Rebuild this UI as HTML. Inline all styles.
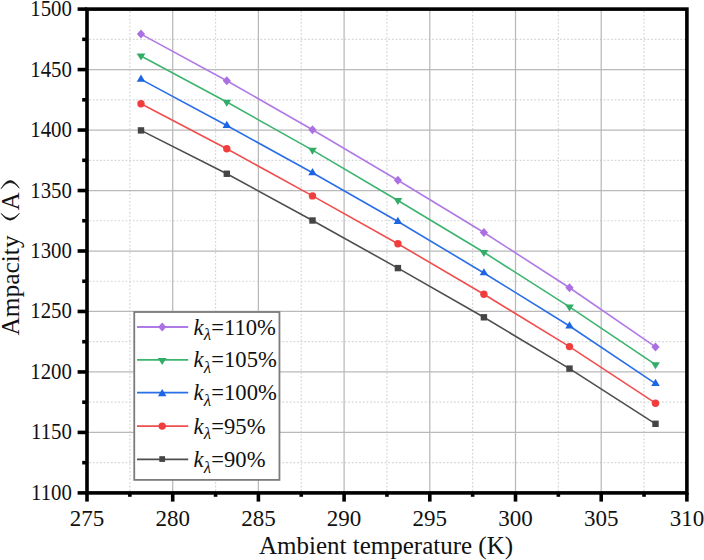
<!DOCTYPE html>
<html><head><meta charset="utf-8"><style>
html,body{margin:0;padding:0;background:#fff;}
svg{display:block;}
text{font-family:"Liberation Serif",serif;fill:#111;}
.mg{stroke:#d6d6d6;stroke-width:1.2;stroke-dasharray:1.8 1.85;}
.Mg{stroke:#b9b9b9;stroke-width:1.25;}
.tk{stroke:#000;stroke-width:3.6;}
.yt{font-size:22.4px;text-anchor:end;}
.xt{font-size:23px;text-anchor:middle;}
.lg{font-size:22.6px;}
.at{font-size:25px;}
.at2{font-size:25px;}
</style></head><body>
<svg width="704" height="560" viewBox="0 0 704 560">
<rect width="704" height="560" fill="#fff"/>
<line x1="129.85" y1="11.1" x2="129.85" y2="492.9" class="mg"/>
<line x1="215.55" y1="11.1" x2="215.55" y2="492.9" class="mg"/>
<line x1="301.25" y1="11.1" x2="301.25" y2="492.9" class="mg"/>
<line x1="386.95" y1="11.1" x2="386.95" y2="492.9" class="mg"/>
<line x1="472.65" y1="11.1" x2="472.65" y2="492.9" class="mg"/>
<line x1="558.35" y1="11.1" x2="558.35" y2="492.9" class="mg"/>
<line x1="644.05" y1="11.1" x2="644.05" y2="492.9" class="mg"/>
<line x1="89" y1="462.66" x2="686.9" y2="462.66" class="mg"/>
<line x1="89" y1="402.19" x2="686.9" y2="402.19" class="mg"/>
<line x1="89" y1="341.71" x2="686.9" y2="341.71" class="mg"/>
<line x1="89" y1="281.24" x2="686.9" y2="281.24" class="mg"/>
<line x1="89" y1="220.76" x2="686.9" y2="220.76" class="mg"/>
<line x1="89" y1="160.29" x2="686.9" y2="160.29" class="mg"/>
<line x1="89" y1="99.81" x2="686.9" y2="99.81" class="mg"/>
<line x1="89" y1="39.34" x2="686.9" y2="39.34" class="mg"/>
<line x1="172.7" y1="9.1" x2="172.7" y2="492.9" class="Mg"/>
<line x1="258.4" y1="9.1" x2="258.4" y2="492.9" class="Mg"/>
<line x1="344.1" y1="9.1" x2="344.1" y2="492.9" class="Mg"/>
<line x1="429.8" y1="9.1" x2="429.8" y2="492.9" class="Mg"/>
<line x1="515.5" y1="9.1" x2="515.5" y2="492.9" class="Mg"/>
<line x1="601.2" y1="9.1" x2="601.2" y2="492.9" class="Mg"/>
<line x1="87" y1="432.42" x2="686.9" y2="432.42" class="Mg"/>
<line x1="87" y1="371.95" x2="686.9" y2="371.95" class="Mg"/>
<line x1="87" y1="311.47" x2="686.9" y2="311.47" class="Mg"/>
<line x1="87" y1="251" x2="686.9" y2="251" class="Mg"/>
<line x1="87" y1="190.53" x2="686.9" y2="190.53" class="Mg"/>
<line x1="87" y1="130.05" x2="686.9" y2="130.05" class="Mg"/>
<line x1="87" y1="69.58" x2="686.9" y2="69.58" class="Mg"/>
<polyline points="141,130.4 226.8,173.75 312.5,220.5 397.9,268.1 483.9,317.3 569.5,368.6 655.5,423.8" fill="none" stroke="#4e4e4e" stroke-width="1.6"/>
<rect x="137.8" y="127.2" width="6.4" height="6.4" fill="#454545"/>
<rect x="223.6" y="170.55" width="6.4" height="6.4" fill="#454545"/>
<rect x="309.3" y="217.3" width="6.4" height="6.4" fill="#454545"/>
<rect x="394.7" y="264.9" width="6.4" height="6.4" fill="#454545"/>
<rect x="480.7" y="314.1" width="6.4" height="6.4" fill="#454545"/>
<rect x="566.3" y="365.4" width="6.4" height="6.4" fill="#454545"/>
<rect x="652.3" y="420.6" width="6.4" height="6.4" fill="#454545"/>
<polyline points="141,103.8 226.8,148.75 312.5,195.9 397.9,243.75 483.9,294.3 569.5,346.6 655.5,403.2" fill="none" stroke="#f04e4e" stroke-width="1.6"/>
<circle cx="141" cy="103.8" r="3.7" fill="#f03e3e"/>
<circle cx="226.8" cy="148.75" r="3.7" fill="#f03e3e"/>
<circle cx="312.5" cy="195.9" r="3.7" fill="#f03e3e"/>
<circle cx="397.9" cy="243.75" r="3.7" fill="#f03e3e"/>
<circle cx="483.9" cy="294.3" r="3.7" fill="#f03e3e"/>
<circle cx="569.5" cy="346.6" r="3.7" fill="#f03e3e"/>
<circle cx="655.5" cy="403.2" r="3.7" fill="#f03e3e"/>
<polyline points="141,79.4 226.8,125.5 312.5,172.8 397.9,221.5 483.9,272.95 569.5,326 655.5,383.6" fill="none" stroke="#2a6ee8" stroke-width="1.6"/>
<path d="M136.75 81.8L145.25 81.8L141 74.6Z" fill="#1c66e6"/>
<path d="M222.55 127.9L231.05 127.9L226.8 120.7Z" fill="#1c66e6"/>
<path d="M308.25 175.2L316.75 175.2L312.5 168Z" fill="#1c66e6"/>
<path d="M393.65 223.9L402.15 223.9L397.9 216.7Z" fill="#1c66e6"/>
<path d="M479.65 275.35L488.15 275.35L483.9 268.15Z" fill="#1c66e6"/>
<path d="M565.25 328.4L573.75 328.4L569.5 321.2Z" fill="#1c66e6"/>
<path d="M651.25 386L659.75 386L655.5 378.8Z" fill="#1c66e6"/>
<polyline points="141,55.95 226.8,102.05 312.5,150.1 397.9,200.45 483.9,252.25 569.5,306.95 655.5,364.6" fill="none" stroke="#3cb46e" stroke-width="1.6"/>
<path d="M136.65 53.6L145.35 53.6L141 60.6Z" fill="#32ad67"/>
<path d="M222.45 99.7L231.15 99.7L226.8 106.7Z" fill="#32ad67"/>
<path d="M308.15 147.75L316.85 147.75L312.5 154.75Z" fill="#32ad67"/>
<path d="M393.55 198.1L402.25 198.1L397.9 205.1Z" fill="#32ad67"/>
<path d="M479.55 249.9L488.25 249.9L483.9 256.9Z" fill="#32ad67"/>
<path d="M565.15 304.6L573.85 304.6L569.5 311.6Z" fill="#32ad67"/>
<path d="M651.15 362.25L659.85 362.25L655.5 369.25Z" fill="#32ad67"/>
<polyline points="141,34.1 226.8,80.7 312.5,129.75 397.9,180.25 483.9,232.5 569.5,287.75 655.5,346.9" fill="none" stroke="#b07ae6" stroke-width="1.6"/>
<path d="M141 29.6L145.1 34.1L141 38.6L136.9 34.1Z" fill="#ab70e2"/>
<path d="M226.8 76.2L230.9 80.7L226.8 85.2L222.7 80.7Z" fill="#ab70e2"/>
<path d="M312.5 125.25L316.6 129.75L312.5 134.25L308.4 129.75Z" fill="#ab70e2"/>
<path d="M397.9 175.75L402 180.25L397.9 184.75L393.8 180.25Z" fill="#ab70e2"/>
<path d="M483.9 228L488 232.5L483.9 237L479.8 232.5Z" fill="#ab70e2"/>
<path d="M569.5 283.25L573.6 287.75L569.5 292.25L565.4 287.75Z" fill="#ab70e2"/>
<path d="M655.5 342.4L659.6 346.9L655.5 351.4L651.4 346.9Z" fill="#ab70e2"/>
<rect x="134.25" y="312.0" width="145.2" height="167.9" fill="#fff" stroke="#7c7c7c" stroke-width="1.8"/>
<line x1="137" y1="327" x2="188.2" y2="327" stroke="#b07ae6" stroke-width="1.8"/>
<path d="M162.2 322.5L166.3 327L162.2 331.5L158.1 327Z" fill="#ab70e2"/>
<text x="193.6" y="334.6" class="lg"><tspan font-style="italic">k</tspan><tspan font-size="17" font-style="italic" dy="5.5">λ</tspan><tspan dy="-5.5" dx="0.3">=110%</tspan></text>
<line x1="137" y1="359.8" x2="188.2" y2="359.8" stroke="#3cb46e" stroke-width="1.8"/>
<path d="M157.85 358.1L166.55 358.1L162.2 365.1Z" fill="#32ad67"/>
<text x="193.6" y="367.4" class="lg"><tspan font-style="italic">k</tspan><tspan font-size="17" font-style="italic" dy="5.5">λ</tspan><tspan dy="-5.5" dx="0.3">=105%</tspan></text>
<line x1="137" y1="392.6" x2="188.2" y2="392.6" stroke="#2a6ee8" stroke-width="1.8"/>
<path d="M157.95 396.15L166.45 396.15L162.2 388.95Z" fill="#1c66e6"/>
<text x="193.6" y="400.2" class="lg"><tspan font-style="italic">k</tspan><tspan font-size="17" font-style="italic" dy="5.5">λ</tspan><tspan dy="-5.5" dx="0.3">=100%</tspan></text>
<line x1="137" y1="426.2" x2="188.2" y2="426.2" stroke="#f04e4e" stroke-width="1.8"/>
<circle cx="162.2" cy="426.1" r="3.7" fill="#f03e3e"/>
<text x="193.6" y="433.8" class="lg"><tspan font-style="italic">k</tspan><tspan font-size="17" font-style="italic" dy="5.5">λ</tspan><tspan dy="-5.5" dx="0.3">=95%</tspan></text>
<line x1="137" y1="459.4" x2="188.2" y2="459.4" stroke="#4e4e4e" stroke-width="1.8"/>
<rect x="159.32" y="456.17" width="5.76" height="5.76" fill="#454545"/>
<text x="193.6" y="467" class="lg"><tspan font-style="italic">k</tspan><tspan font-size="17" font-style="italic" dy="5.5">λ</tspan><tspan dy="-5.5" dx="0.3">=90%</tspan></text>
<rect x="87.0" y="9.1" width="599.9" height="483.8" fill="none" stroke="#000" stroke-width="3.6"/>
<line x1="77.6" y1="492.9" x2="87.0" y2="492.9" class="tk"/>
<line x1="82.2" y1="462.66" x2="87.0" y2="462.66" class="tk"/>
<text transform="translate(71.9,499.9) scale(0.93,1)" class="yt">1100</text>
<line x1="77.6" y1="432.42" x2="87.0" y2="432.42" class="tk"/>
<line x1="82.2" y1="402.19" x2="87.0" y2="402.19" class="tk"/>
<text transform="translate(71.9,439.42) scale(0.93,1)" class="yt">1150</text>
<line x1="77.6" y1="371.95" x2="87.0" y2="371.95" class="tk"/>
<line x1="82.2" y1="341.71" x2="87.0" y2="341.71" class="tk"/>
<text transform="translate(71.9,378.95) scale(0.93,1)" class="yt">1200</text>
<line x1="77.6" y1="311.47" x2="87.0" y2="311.47" class="tk"/>
<line x1="82.2" y1="281.24" x2="87.0" y2="281.24" class="tk"/>
<text transform="translate(71.9,318.47) scale(0.93,1)" class="yt">1250</text>
<line x1="77.6" y1="251" x2="87.0" y2="251" class="tk"/>
<line x1="82.2" y1="220.76" x2="87.0" y2="220.76" class="tk"/>
<text transform="translate(71.9,258) scale(0.93,1)" class="yt">1300</text>
<line x1="77.6" y1="190.53" x2="87.0" y2="190.53" class="tk"/>
<line x1="82.2" y1="160.29" x2="87.0" y2="160.29" class="tk"/>
<text transform="translate(71.9,197.53) scale(0.93,1)" class="yt">1350</text>
<line x1="77.6" y1="130.05" x2="87.0" y2="130.05" class="tk"/>
<line x1="82.2" y1="99.81" x2="87.0" y2="99.81" class="tk"/>
<text transform="translate(71.9,137.05) scale(0.93,1)" class="yt">1400</text>
<line x1="77.6" y1="69.58" x2="87.0" y2="69.58" class="tk"/>
<line x1="82.2" y1="39.34" x2="87.0" y2="39.34" class="tk"/>
<text transform="translate(71.9,76.58) scale(0.93,1)" class="yt">1450</text>
<line x1="77.6" y1="9.1" x2="87.0" y2="9.1" class="tk"/>
<text transform="translate(71.9,16.1) scale(0.93,1)" class="yt">1500</text>
<line x1="87" y1="492.9" x2="87" y2="501.6" class="tk"/>
<line x1="129.85" y1="492.9" x2="129.85" y2="496.8" class="tk"/>
<text x="87" y="525.6" class="xt">275</text>
<line x1="172.7" y1="492.9" x2="172.7" y2="501.6" class="tk"/>
<line x1="215.55" y1="492.9" x2="215.55" y2="496.8" class="tk"/>
<text x="172.7" y="525.6" class="xt">280</text>
<line x1="258.4" y1="492.9" x2="258.4" y2="501.6" class="tk"/>
<line x1="301.25" y1="492.9" x2="301.25" y2="496.8" class="tk"/>
<text x="258.4" y="525.6" class="xt">285</text>
<line x1="344.1" y1="492.9" x2="344.1" y2="501.6" class="tk"/>
<line x1="386.95" y1="492.9" x2="386.95" y2="496.8" class="tk"/>
<text x="344.1" y="525.6" class="xt">290</text>
<line x1="429.8" y1="492.9" x2="429.8" y2="501.6" class="tk"/>
<line x1="472.65" y1="492.9" x2="472.65" y2="496.8" class="tk"/>
<text x="429.8" y="525.6" class="xt">295</text>
<line x1="515.5" y1="492.9" x2="515.5" y2="501.6" class="tk"/>
<line x1="558.35" y1="492.9" x2="558.35" y2="496.8" class="tk"/>
<text x="515.5" y="525.6" class="xt">300</text>
<line x1="601.2" y1="492.9" x2="601.2" y2="501.6" class="tk"/>
<line x1="644.05" y1="492.9" x2="644.05" y2="496.8" class="tk"/>
<text x="601.2" y="525.6" class="xt">305</text>
<line x1="686.9" y1="492.9" x2="686.9" y2="501.6" class="tk"/>
<text x="686.9" y="525.6" class="xt">310</text>
<text x="259" y="554" class="at">Ambient temperature (K)</text>
<g transform="translate(19.4,335.5) rotate(-90) scale(1.016,1)"><text x="0" y="0" class="at2">Ampacity</text></g>
<path d="M1 188.8 Q10 172.7 19.3 188.2 Q10 176.3 1 188.8Z" fill="#111" stroke="#111" stroke-width="0.6"/>
<path d="M1 213.3 Q10 227.1 19.5 213.3 Q10 223.5 1 213.3Z" fill="#111" stroke="#111" stroke-width="0.6"/>
<g transform="translate(19.3,210.2) rotate(-90)"><text x="0" y="0" class="at2">A</text></g>
</svg>
</body></html>
